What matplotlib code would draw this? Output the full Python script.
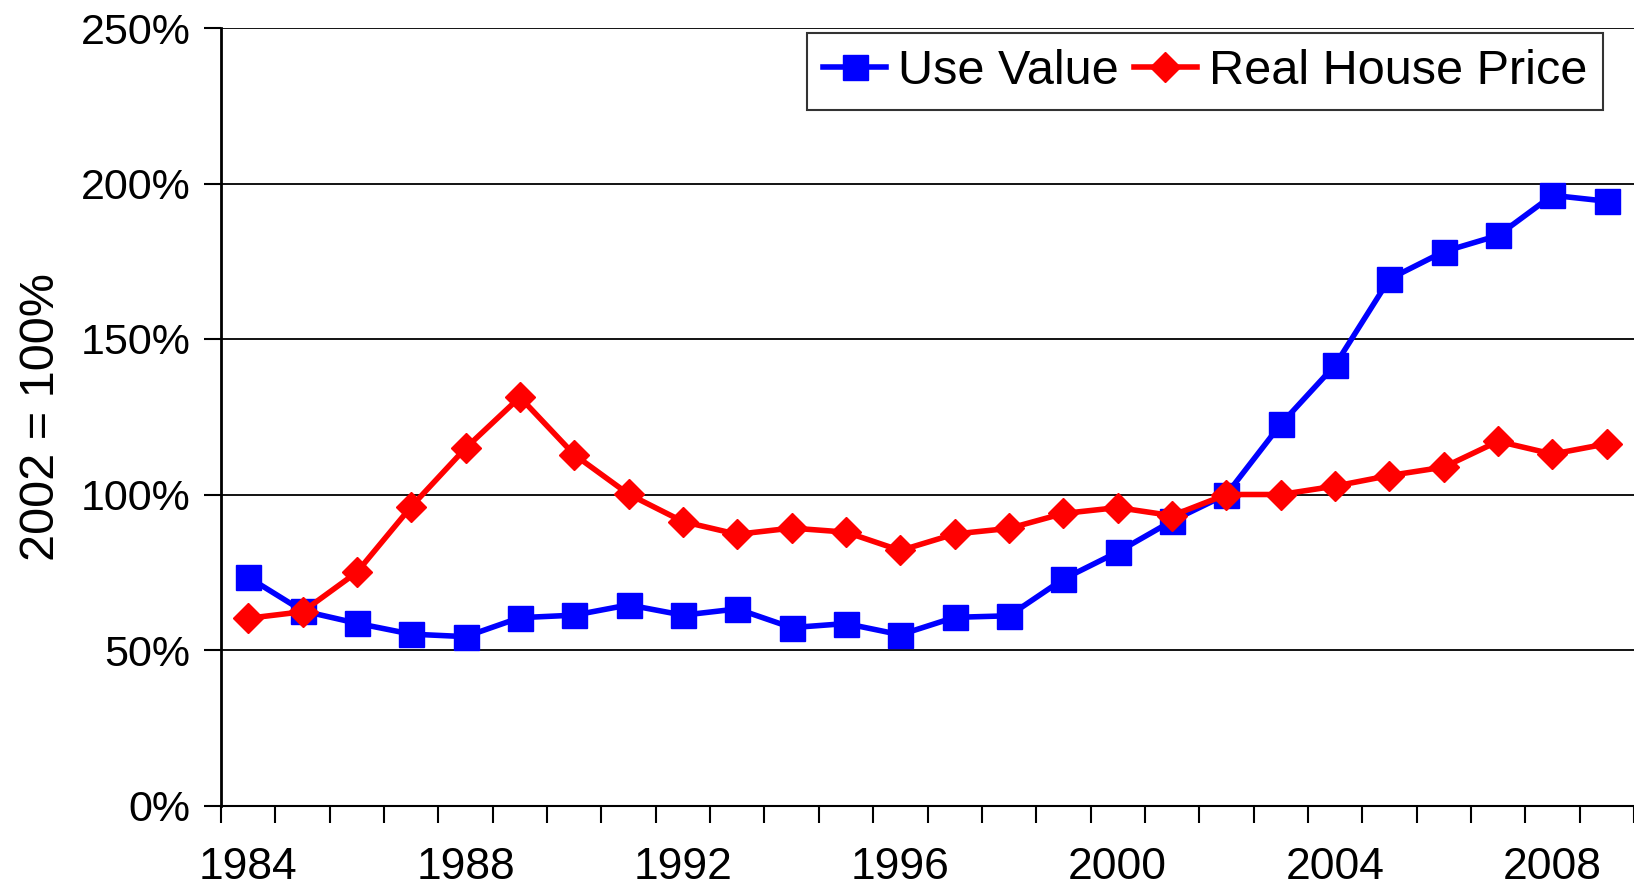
import matplotlib
matplotlib.use("Agg")
import matplotlib.pyplot as plt
import numpy as np

plt.rcParams["font.family"] = ["Liberation Sans", "DejaVu Sans"]

years = list(range(1984, 2010))
use_value = [73.4, 62.6, 58.6, 55.1, 54.3, 60.4, 61.2, 64.5, 61.2, 63.2, 57.2, 58.5, 54.9,
             60.5, 61.0, 72.8, 81.5, 91.5, 100.0, 122.6, 141.6, 169.3, 178.1, 183.3, 196.2, 194.3]
house_price = [60.2, 62.3, 75.0, 96.1, 114.9, 131.3, 112.8, 100.1, 91.3, 87.2, 89.2, 87.9, 82.0,
               87.3, 89.1, 93.9, 95.8, 93.2, 100.0, 100.0, 102.7, 106.1, 108.8, 117.1, 113.0, 116.3]
label_years = [1984, 1988, 1992, 1996, 2000, 2004, 2008]
y_ticks = [0, 50, 100, 150, 200, 250]

fig = plt.figure(figsize=(16.34, 8.89), dpi=100)
ax = fig.add_axes([221 / 1634, 1 - 805.5 / 889, 1 - 221 / 1634, (805.5 - 28) / 889])

x = np.arange(len(years))
ax.plot(x, use_value, color="#0000ff", lw=4, marker="s", ms=18, mec="#0000ff",
        label="Use Value", zorder=3)
ax.plot(x, house_price, color="#ff0000", lw=4, marker="D", ms=15, mec="#ff0000",
        label="Real House Price", zorder=4)

ax.set_xlim(-0.5, len(years) - 0.5)
ax.set_ylim(0, 250)

# category axis: tick marks between years, labels centred on years
ax.set_xticks(np.arange(-0.5, len(years), 1.0))
ax.set_xticklabels([])
ax.set_xticks([years.index(y) for y in label_years], minor=True)
ax.set_xticklabels([str(y) for y in label_years], minor=True, fontsize=32)
ax.tick_params(axis="x", which="major", length=12, width=1.5, direction="out")
ax.tick_params(axis="x", which="minor", length=0, pad=30)

ax.set_yticks(y_ticks)
ax.set_yticklabels(["%d%%" % v for v in y_ticks], fontsize=31)
ax.tick_params(axis="y", length=12, width=1.5, direction="out", pad=10)

ax.grid(axis="y", color="black", lw=1.3)
ax.set_axisbelow(True)
for s in ["top", "right"]:
    ax.spines[s].set_visible(False)
ax.spines["left"].set_linewidth(2)
ax.spines["bottom"].set_linewidth(1.5)

ax.set_ylabel("2002 = 100%", fontsize=35, labelpad=12)

leg = ax.legend(loc="upper right", ncol=2, fontsize=35, frameon=True, fancybox=False,
                edgecolor="black", handlelength=1.3, handletextpad=0.25, columnspacing=0.3,
                borderpad=0.32, borderaxespad=0, bbox_to_anchor=(0.978, 0.993))
leg.get_frame().set_linewidth(1.5)

fig.savefig("out.png", dpi=100)
